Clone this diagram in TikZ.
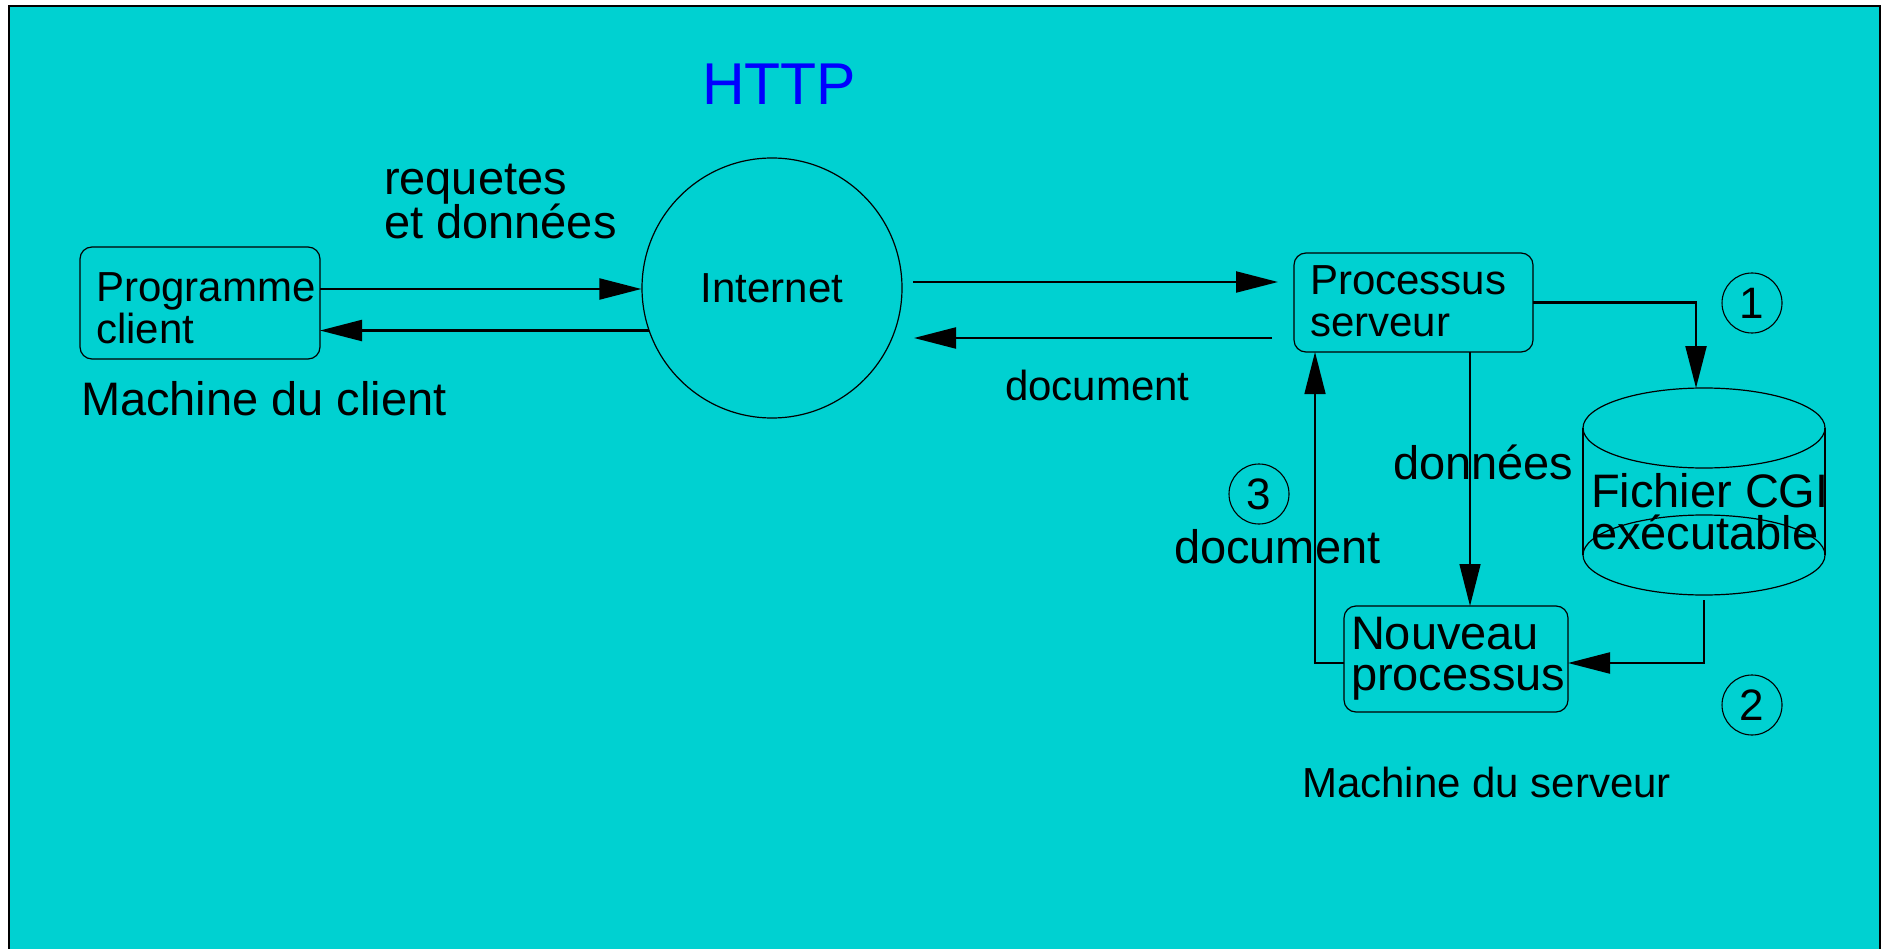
\documentclass[tikz,border=0pt]{standalone}
\usepackage{fontspec}
\setmainfont{Liberation Sans}
\usetikzlibrary{arrows.meta}
\definecolor{bgcyan}{RGB}{0,209,209}
\definecolor{httpblue}{RGB}{0,0,255}
\lineskiplimit=-100pt
\tikzset{
  tx/.style={inner sep=0pt, outer sep=0pt, align=left, anchor=north west},
  lb/.style={inner sep=0pt, outer sep=0pt, anchor=base west,
    font=\fontsize{#1}{#1}\selectfont},
  box/.style={draw, rounded corners=12pt, line width=1.2pt, inner sep=0pt, outer sep=0pt},
  numc/.style={circle, draw, line width=1.1pt, minimum size=60pt, inner sep=0pt,
    font=\fontsize{44}{44}\selectfont},
  arr/.style={line width=2.2pt, -{Triangle[length=42pt,width=21pt]}},
  tarr/.style={line width=1.5pt, -{Triangle[length=42pt,width=21pt]}},
  outl/.style={line width=1.2pt}
}
\begin{document}
\begin{tikzpicture}[x=1pt,y=-1pt]
\useasboundingbox (0,0) rectangle (1886,949);
\fill[white] (0,0) rectangle (1886,949);
\filldraw[fill=bgcyan, draw=black, line width=1.5pt] (9,6) rectangle (1880,1000);

% title
\node[lb=59, text=httpblue] (http) at (702,105) {HTTP};

% client side
\node[box, minimum width=240pt, minimum height=112pt] (prog) at (200,303) {};
\node[tx, font=\fontsize{42}{41}\selectfont] (progt) at (96,242) {\rule{0pt}{60pt}Programme\\client};
\node[lb=47] (mclient) at (81,415) {Machine du client};
\node[tx, font=\fontsize{47}{44}\selectfont] (req) at (384,135) {\rule{0pt}{60pt}requetes\\et données};

% internet
\node[circle, draw, line width=1.2pt, minimum size=260pt, inner sep=0pt,
  font=\fontsize{42}{42}\selectfont] (inet) at (772,288) {Internet};

\draw[arr] (prog.east |- 0,289) -- (inet.west |- 0,289);
\draw[arr] (inet.199) -- (prog.east |- inet.199);

% server side
\node[box, minimum width=239pt, minimum height=99pt] (proc) at (1413.5,302.5) {};
\node[tx, font=\fontsize{42}{42}\selectfont] (proct) at (1310,235) {\rule{0pt}{60pt}Processus\\serveur};

\coordinate (r1) at (913,282);
\coordinate (r2) at (914,338);
\draw[arr, shorten >=16pt] (r1) -- (proc.west |- r1);
\draw[arr, shorten <=22pt] (proc.west |- r2) -- (r2);
\node[lb=42] (doc1) at (1005,400) {document};

% cylinder
\draw[outl] (1704,428) ellipse [x radius=121pt, y radius=40pt];
\draw[outl] (1704,555) ellipse [x radius=121pt, y radius=40pt];
\draw[outl] (1583,428) -- (1583,555) (1825,428) -- (1825,555);
\node[tx, font=\fontsize{47}{42}\selectfont] (cgi) at (1591,447) {\rule{0pt}{60pt}Fichier CGI\\exécutable};
\coordinate (cyltop) at (1696,388);
\coordinate (cylbot) at (1704,600);

\node[numc] (n1) at (1752,303) {1};
\node[numc] (n2) at (1752,705) {2};
\node[numc] (n3) at (1259,494) {3};

\node[box, minimum width=224pt, minimum height=106pt] (nouv) at (1456,659) {};
\node[tx, font=\fontsize{47}{41}\selectfont] (nouvt) at (1351,589) {\rule{0pt}{60pt}Nouveau\\processus};

\draw[arr] (proc.east) -| (cyltop);
\draw[arr] (cylbot) |- (nouv.east |- 0,663);
\draw[tarr] (proc.south -| 1470,0) -- (nouv.north -| 1470,0);
\draw[tarr] (nouv.west |- 0,663) -| ([xshift=21pt]proc.south west);

\node[lb=47] (donnees) at (1393,479) {données};
\node[lb=47] (doc2) at (1174,563) {document};
\node[lb=42] (mserv) at (1302,797) {Machine du serveur};
\end{tikzpicture}
\end{document}
